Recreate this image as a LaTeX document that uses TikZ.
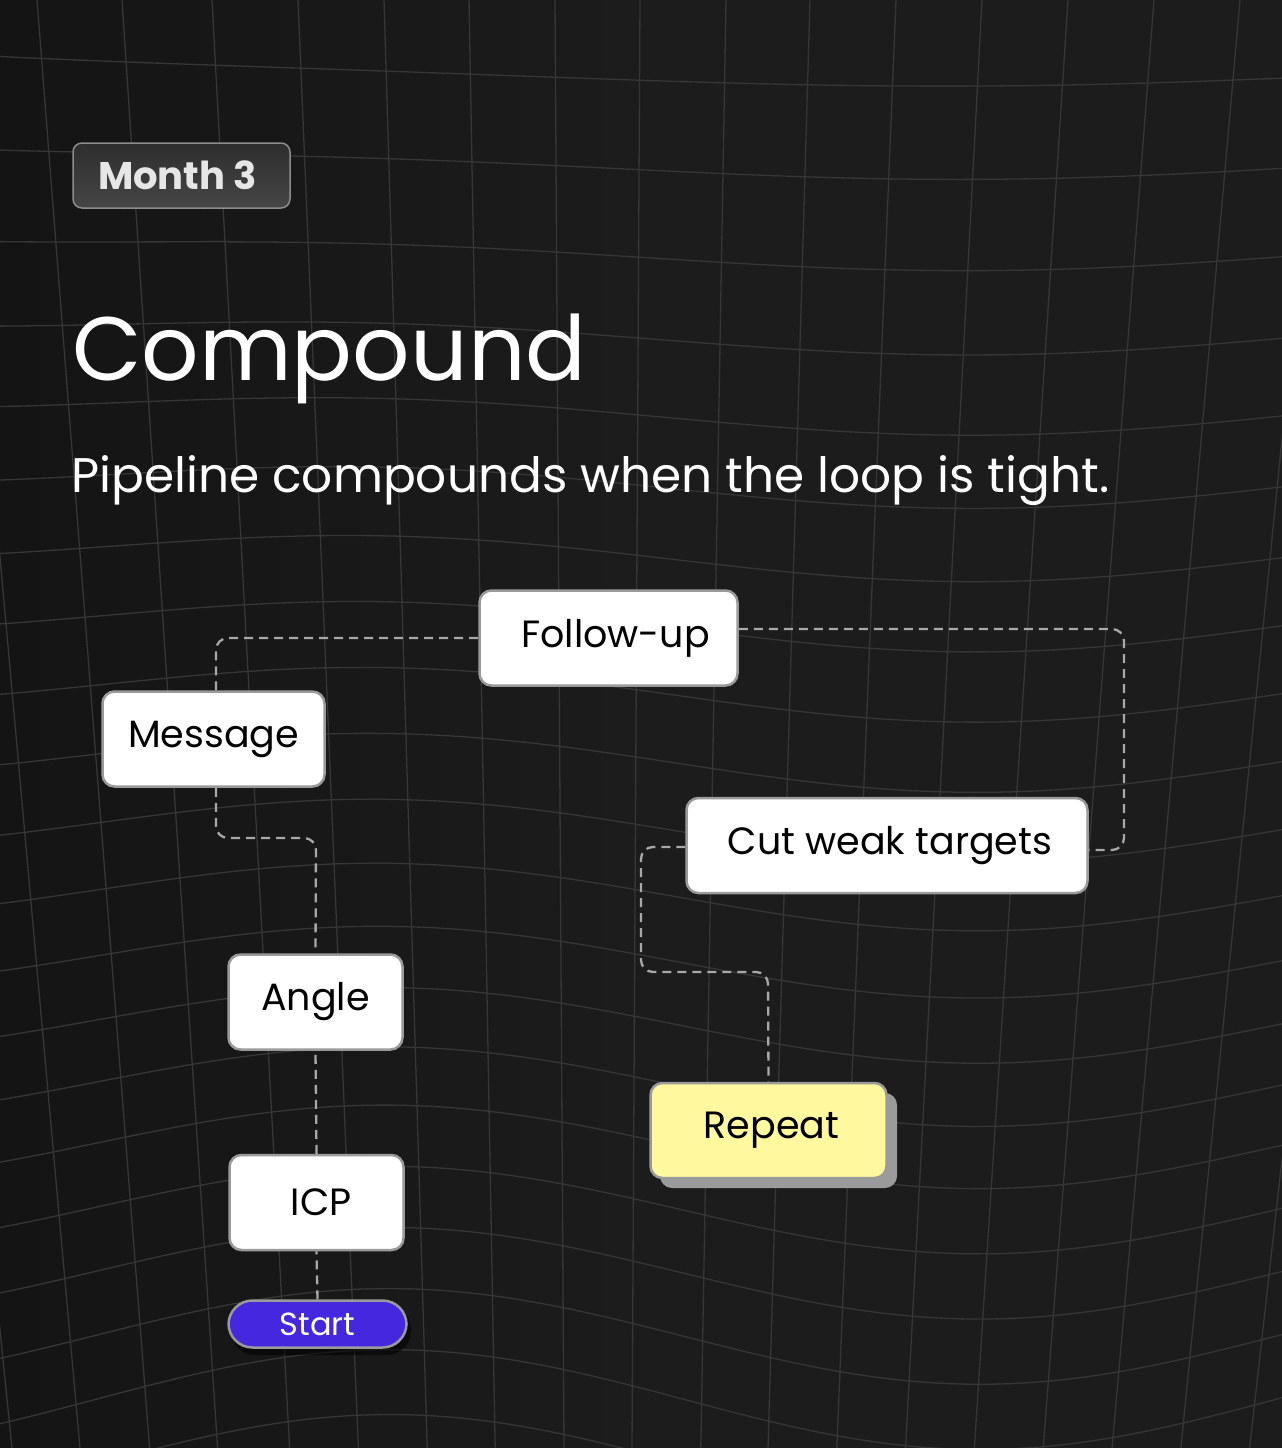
\documentclass[tikz,border=0pt]{standalone}
\usepackage{fontspec}
\setmainfont{Poppins}
\usetikzlibrary{calc}
\definecolor{bgbase}{HTML}{1C1C1C}
\definecolor{bgdark}{HTML}{141414}
\definecolor{gridc}{HTML}{363636}
\definecolor{nodeborder}{HTML}{9A9A9A}
\definecolor{connc}{HTML}{A8A8A8}
\definecolor{startc}{HTML}{4527E0}
\definecolor{repeatc}{HTML}{FFF89E}
\definecolor{shadowc}{HTML}{9B9B9B}
\definecolor{badgetop}{HTML}{2E2E2E}
\definecolor{badgebot}{HTML}{464646}
\definecolor{badgeborder}{HTML}{8C8C8C}
\definecolor{badgetext}{HTML}{E6E6E6}
\tikzset{
  box/.style={draw=nodeborder, line width=2.5pt, fill=white, rounded corners=12pt,
    inner sep=0pt, align=center, text=black, font=\fontsize{38}{44}\selectfont},
  startbox/.style={draw=nodeborder, line width=2.5pt, fill=startc, rounded corners=24pt,
    inner sep=0pt, text=white, font=\fontsize{32}{38}\selectfont,
    minimum width=178pt, minimum height=47pt},
  conn/.style={draw=connc, line width=2.3pt, dash pattern=on 9pt off 6pt, rounded corners=12pt},
  gridline/.style={draw=gridc, line width=1.3pt}
}
\begin{document}
\begin{tikzpicture}[x=1pt,y=-1pt]
\useasboundingbox (0,0) rectangle (1282,1448);
\shade[left color=bgdark, right color=bgbase, middle color=bgbase] (0,0) rectangle (1282,1448);
% warped grid
\begin{scope}
\clip (0,0) rectangle (1282,1448);
\foreach \v in {-6,86,179,270,354,434,507,580,650,720,790,860,928,995,1060,1123,1185,1250,1315,1380,1445,1510} {
  \pgfmathsetmacro{\tw}{min(max(\v/1448,0),1)}
  \draw[gridline] plot[domain=-20:1300, samples=45, smooth, variable=\s]
    ({\s}, {\v + (1-\tw)*(-30*((\s-900)/900)^2) + \tw*(-50*cos(0.305085*(\s-390)) - 45.5)});
}
\foreach \u in {-135,-50,37,122,212,298,384,469,555,640,726,810,896,982,1068,1154,1240,1326,1412} {
  \draw[gridline] plot[domain=-20:1470, samples=10, smooth, variable=\t]
    ({600+(\u-600)*(1-0.2*\t/1448)}, {\t});
}
\end{scope}
% badge
\shade[top color=badgetop, bottom color=badgebot, rounded corners=9pt] (73,143) rectangle (290,208);
\draw[badgeborder, line width=1.5pt, rounded corners=9pt] (73,143) rectangle (290,208);
\node[inner sep=0pt, text=badgetext, font=\bfseries\fontsize{38.5}{44}\selectfont] (badge) at (177.5,175.5) {Month 3};
% title
\node[anchor=base west, inner sep=0pt, text=white, font=\fontsize{90}{104}\selectfont] (title) at (72,380) {Compound};
\node[anchor=base west, inner sep=0pt, text=white, font=\fontsize{48.6}{58}\selectfont] (subtitle) at (71,492) {Pipeline compounds when the loop is tight.};
% shadows
\fill[shadowc, rounded corners=12pt] (660,1093) rectangle (897,1188);
\fill[black, opacity=0.55, rounded corners=24pt] (231,1305) rectangle (411,1355);
% nodes
\node[box, minimum width=258pt, minimum height=95pt] (fu) at (608.5,638) {\hspace*{14pt}Follow-up};
\node[box, minimum width=222pt, minimum height=95pt] (msg) at (213.5,739) {Message};
\node[box, minimum width=401pt, minimum height=95pt] (cut) at (887,845.5) {\hspace*{6pt}Cut weak targets};
\node[box, minimum width=174pt, minimum height=95pt] (angle) at (315.5,1002) {Angle};
\node[box, minimum width=174pt, minimum height=95pt] (icp) at (316.5,1202.5) {\hspace*{9pt}ICP};
\node[box, fill=repeatc, minimum width=236pt, minimum height=95pt] (rep) at (768.5,1130.5) {\hspace*{6pt}Repeat};
\node[startbox] (start) at (317.5,1324) {Start};
% connectors
\coordinate (m1) at (316,838);
\coordinate (f1) at (1124,629);
\coordinate (f2) at (1124,850);
\coordinate (k1) at (641,847);
\coordinate (k2) at (641,972);
\coordinate (k3) at (768,972);
\draw[conn] (start.north) -- (icp.south);
\draw[conn] (icp.north) -- (angle.south);
\draw[conn] ([xshift=2.5pt]msg.south) |- (m1) -- (angle.north);
\draw[conn] ([xshift=2.5pt]msg.north) |- (fu.west);
\draw[conn] ([yshift=9pt]fu.east) -- (f1) -- (f2) -- (cut.east |- f2);
\draw[conn] (cut.west |- k1) -- (k1) -- (k2) -- (k3) -- (rep.north);
\end{tikzpicture}
\end{document}
